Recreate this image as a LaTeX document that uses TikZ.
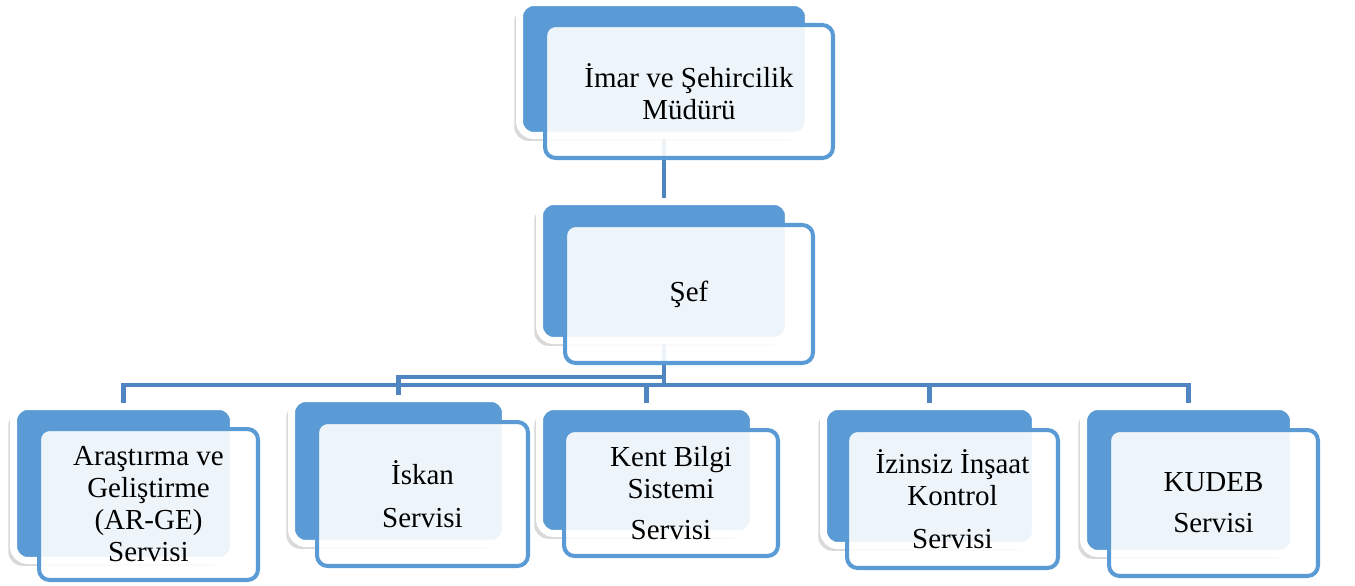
\documentclass[tikz,border=0pt]{standalone}
\usepackage{fontspec}
\setmainfont{Liberation Serif}
\usepackage{tikz}
\usetikzlibrary{shadows,backgrounds}
\definecolor{boxblue}{HTML}{5B9BD5}
\definecolor{lineblue}{HTML}{4F85C0}

\begin{document}
\begin{tikzpicture}[x=0.02cm,y=-0.02cm]
  \tikzstyle{back}=[rectangle,rounded corners=8pt,fill=boxblue,draw=white,line width=4pt,
                    drop shadow={shadow xshift=-3pt,shadow yshift=-3pt,opacity=0.3}]
  \tikzstyle{front}=[rectangle,rounded corners=6pt,draw=boxblue,line width=2.3pt,
                     fill=white,fill opacity=0.9,text opacity=1,align=center,
                     font=\fontsize{16.5}{18.2}\selectfont]
  \tikzstyle{link}=[draw=lineblue,line width=2.3pt]
  \useasboundingbox (0,0) rectangle (1355,585);
  % back boxes
  \node [back,minimum width=5.78cm,minimum height=2.66cm] (mud)   at (664,69)     {};
  \node [back,minimum width=4.98cm,minimum height=2.78cm] (sef)   at (664,271)    {};
  \node [back,minimum width=4.40cm,minimum height=3.08cm] (arge)  at (123.5,483.5) {};
  \node [back,minimum width=4.28cm,minimum height=2.90cm] (iskan) at (398.5,471)  {};
  \node [back,minimum width=4.28cm,minimum height=2.54cm] (kbs)   at (646.5,470)  {};
  \node [back,minimum width=4.24cm,minimum height=2.78cm] (izin)  at (929.5,476)  {};
  \node [back,minimum width=4.20cm,minimum height=2.94cm] (kudeb) at (1188.5,480) {};
  % front boxes
  \node [front,minimum width=5.76cm,minimum height=2.66cm] (mudf)   at (689,91.5)
    {İmar ve Şehircilik\\Müdürü};
  \node [front,minimum width=4.96cm,minimum height=2.76cm] (seff)   at (689,294)
    {Şef};
  \node [front,minimum width=4.38cm,minimum height=3.02cm] (argef)  at (148.5,504.5)
    {Araştırma ve\\Geliştirme\\(AR-GE)\\Servisi};
  \node [front,minimum width=4.22cm,minimum height=2.88cm] (iskanf) at (422.5,494)
    {İskan\\[6pt]Servisi};
  \node [front,minimum width=4.28cm,minimum height=2.52cm] (kbsf)   at (671,493)
    {Kent Bilgi\\Sistemi\\[5pt]Servisi};
  \node [front,minimum width=4.22cm,minimum height=2.76cm] (izinf)  at (952.5,499)
    {İzinsiz İnşaat\\Kontrol\\[6pt]Servisi};
  \node [front,minimum width=4.18cm,minimum height=2.92cm] (kudebf) at (1213.5,503)
    {KUDEB\\[5pt]Servisi};
  % connectors
  \coordinate (bus)  at (0,385);
  \coordinate (bus2) at (0,377);
  \begin{scope}[on background layer]
    \draw [link] (mud.south) -- (sef.north);
    \draw [link] (sef.south) -- (sef.south |- bus) -| (arge.north);
    \draw [link] (sef.south) -- (sef.south |- bus2) -| (iskan.north);
    \draw [link] (sef.south) -- (sef.south |- bus) -| (kbs.north);
    \draw [link] (sef.south) -- (sef.south |- bus) -| (izin.north);
    \draw [link] (sef.south) -- (sef.south |- bus) -| (kudeb.north);
  \end{scope}
\end{tikzpicture}
\end{document}
